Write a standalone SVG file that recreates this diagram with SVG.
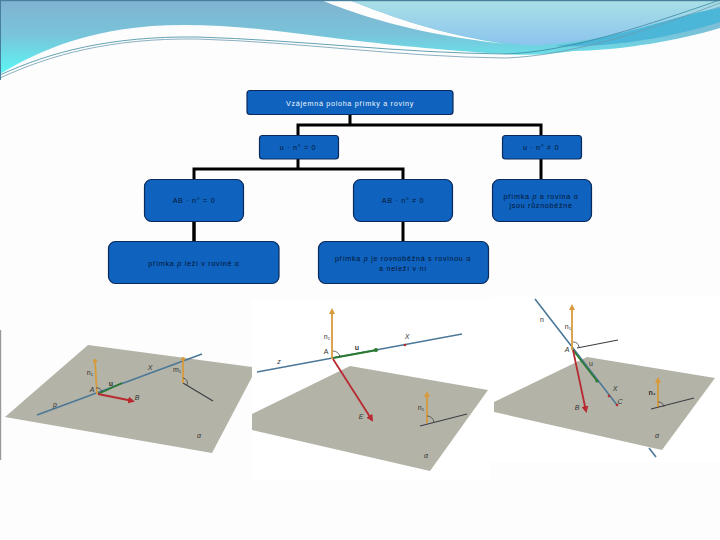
<svg xmlns="http://www.w3.org/2000/svg" width="720" height="540" viewBox="0 0 720 540">
<style>
.box{fill:#0f62bd;stroke:#0a2a5c;stroke-width:1.2}
.t{font-family:"Liberation Sans",Arial,sans-serif;font-size:7.2px;letter-spacing:.7px;fill:#021636;text-anchor:middle}
.w{fill:#eef8ff}
.conn{stroke:#000;stroke-width:3;fill:none}
.pl{fill:#b3b3a8}
.ln{stroke:#4c7898;stroke-width:1.6;fill:none}
.gr{stroke:#2a7a30;stroke-width:1.8;fill:none}
.rd{stroke:#b82a30;stroke-width:1.8;fill:none}
.or{stroke:#d89a3a;stroke-width:1.8;fill:none}
.bk{stroke:#3a3f44;stroke-width:1.1;fill:none}
.ang{stroke:#444;stroke-width:.8;fill:none}
.l{font-family:"Liberation Sans",Arial,sans-serif;font-size:7px;fill:#333;text-anchor:middle}
.i{font-style:italic}
</style>
<defs>
<linearGradient id="g1" gradientUnits="userSpaceOnUse" x1="0" y1="0" x2="0" y2="70"><stop offset="0" stop-color="#80b2cf"/><stop offset=".5" stop-color="#79c4da"/><stop offset="1" stop-color="#5ef2f2"/></linearGradient>
<linearGradient id="g2" x1="0" y1="0" x2="0" y2="1"><stop offset="0" stop-color="#a9e0e6"/><stop offset="1" stop-color="#8cc4ee"/></linearGradient>
<marker id="ao" markerWidth="6" markerHeight="6" refX="3" refY="3" orient="auto" markerUnits="userSpaceOnUse"><path d="M0 0L6 3L0 6z" fill="#d89a3a"/></marker>
<marker id="ar" markerWidth="7" markerHeight="7" refX="5" refY="3.5" orient="auto" markerUnits="userSpaceOnUse"><path d="M0 0L7 3.500L0 7z" fill="#b82a30"/></marker>
</defs>
<rect width="720" height="540" fill="#fdfdfd"/>
<path d="M0 0H720V28C680 40 625 50 574 51C550 54 530 56 505 54C470 52 420 48 367 42C310 36 250 25 184 25C95 25 40 50 0 74Z" fill="url(#g1)"/>
<path d="M321 0H349C395 18 440 34 505 44C440 36 385 26 321 0Z" fill="#fdfdfd"/>
<path d="M349 0H720V6C680 20 620 38 542 45C520 45 510 43 505 43C440 34 395 18 349 0Z" fill="url(#g2)"/>
<path d="M555 46C620 38 680 14 720 8V22C670 38 610 48 555 46Z" fill="#4cb6d8"/>
<path d="M0 78C50 55 110 38 197 39C300 42 400 57 505 58C570 56 650 30 720 3" fill="none" stroke="#6d9cb0" stroke-width=".8"/>
<path d="M0 75C50 52 110 36 197 37C300 40 400 53 505 54C570 52 650 24 720 0" fill="none" stroke="#3c8aa0" stroke-width=".8"/>
<rect x="0" y="0" width="720" height="1.200" fill="#47809c"/>
<rect x="0" y="0" width="1" height="80" fill="#47809c"/>
<rect x="0" y="330" width="1.200" height="130" fill="#999"/>

<g id="connectors" class="conn">
<path d="M350 114V125M298 135V125H541V135"/>
<path d="M298 159V169M194 179V169H403V179"/>
<path d="M194 221V241" stroke-width="3.500"/>
<path d="M403 221V241"/>
<path d="M541 159V179"/>
</g>

<g id="root"><rect class="box" x="247" y="90.500" width="206" height="24" rx="3"/><text class="t w" x="350" y="106">Vzájemná poloha přímky a roviny</text></g>
<g id="u0"><rect class="box" x="259.500" y="135.500" width="79" height="23.500" rx="3"/><text class="t" x="298" y="150">u · n° = 0</text></g>
<g id="u1"><rect class="box" x="502.500" y="135.500" width="79" height="23.500" rx="3"/><text class="t" x="541" y="150">u · n° ≠ 0</text></g>
<g id="ab0"><rect class="box" x="144.500" y="179.500" width="99" height="42" rx="7"/><text class="t" x="194" y="203">AB · n° = 0</text></g>
<g id="ab1"><rect class="box" x="353.500" y="179.500" width="99" height="42" rx="7"/><text class="t" x="403" y="203">AB · n° ≠ 0</text></g>
<g id="res3"><rect class="box" x="492.500" y="179.500" width="99" height="42" rx="7"/><text class="t" x="541" y="199">přímka <tspan class="i">p</tspan> a rovina α</text><text class="t" x="541" y="208">jsou různoběžné</text></g>
<g id="res1"><rect class="box" x="108.500" y="241.500" width="170.500" height="42" rx="7"/><text class="t" x="194" y="266">přímka <tspan class="i">p</tspan> leží v rovině α</text></g>
<g id="res2"><rect class="box" x="318.500" y="241.500" width="170" height="42" rx="7"/><text class="t" x="403" y="261">přímka <tspan class="i">p</tspan> je rovnoběžná s rovinou α</text><text class="t" x="403" y="271">a neleží v ní</text></g>

<!-- scene 1 -->
<path class="pl" d="M88 345L252 367V377L212 453L5 417Z"/>
<path class="ln" d="M37 415L202 354"/>
<path class="gr" d="M98 394L122 383"/>
<path class="rd" d="M98 394L133 401" marker-end="url(#ar)"/>
<path class="or" d="M97 394L95 361"/>
<circle cx="95" cy="361" r="2" fill="#d89a3a"/>
<path class="bk" d="M183 383L213 401"/>
<path class="or" d="M183 383V358"/>
<circle cx="183" cy="359" r="2" fill="#d89a3a"/>
<path class="ang" d="M96 388a5 5 0 0 1 6 4M183 378a5 5 0 0 1 4 7"/>
<text class="l" x="90" y="375">n₁</text><text class="l" x="111" y="386" font-weight="bold">u</text><text class="l i" x="92" y="392">A</text><text class="l i" x="137" y="400">B</text><text class="l i" x="150" y="370">X</text><text class="l" x="177" y="372">m₁</text><text class="l i" x="55" y="407">p</text><text class="l i" x="199" y="438">α</text>

<!-- scene 2 -->
<rect x="252" y="300" width="238" height="180" fill="#fff"/>
<path class="pl" d="M350 366L488 390L430 471L252 430V414Z"/>
<path class="ln" d="M257 372L462 334"/>
<path class="gr" d="M333 358L377 350"/>
<circle cx="376" cy="350" r="2" fill="#2a7a30"/>
<circle cx="405" cy="345" r="1.300" fill="#b82a30"/>
<path class="rd" d="M333 359L372 420" marker-end="url(#ar)"/>
<path class="or" d="M332 359V311" marker-end="url(#ao)"/>
<path class="or" d="M427 423V394" marker-end="url(#ao)"/>
<path class="bk" d="M420 426L467 414"/>
<path class="ang" d="M333 351a7 7 0 0 1 7 6M427 416a7 7 0 0 1 7 6"/>
<text class="l" x="327" y="339">n₁</text><text class="l" x="326" y="354">A</text><text class="l" x="357" y="350" font-weight="bold">u</text><text class="l i" x="407" y="339">X</text><text class="l i" x="279" y="364">z</text><text class="l i" x="361" y="419">E</text><text class="l" x="421" y="410">n₁</text><text class="l i" x="426" y="458">α</text>

<!-- scene 3 -->
<rect x="490" y="297" width="230" height="165" fill="#fff"/>
<path class="pl" d="M587 357L715 378L662 450L494 412V402Z"/>
<path class="ln" d="M535 299L617 405M649 448L656 457"/>
<path class="gr" d="M573 350L597 381"/>
<circle cx="597" cy="381" r="1.600" fill="#2a7a30"/>
<circle cx="609" cy="396" r="1.300" fill="#b82a30"/>
<circle cx="617" cy="405" r="1.300" fill="#b82a30"/>
<path class="rd" d="M573 350L586 411" marker-end="url(#ar)"/>
<path class="or" d="M572 350V307" marker-end="url(#ao)"/>
<path class="or" d="M658 408V380" marker-end="url(#ao)"/>
<path class="bk" d="M577 348L618 340M651 409L694 398"/>
<path class="ang" d="M573 342a6 6 0 0 1 6 5M658 402a6 6 0 0 1 6 5"/>
<text class="l" x="542" y="322">n</text><text class="l" x="568" y="329">n₁</text><text class="l i" x="567" y="352">A</text><text class="l" x="591" y="366">u</text><text class="l i" x="615" y="391">X</text><text class="l i" x="620" y="404">C</text><text class="l i" x="577" y="410">B</text><text class="l" x="652" y="395" font-weight="bold">n₁</text><text class="l i" x="657" y="438">α</text>
</svg>
